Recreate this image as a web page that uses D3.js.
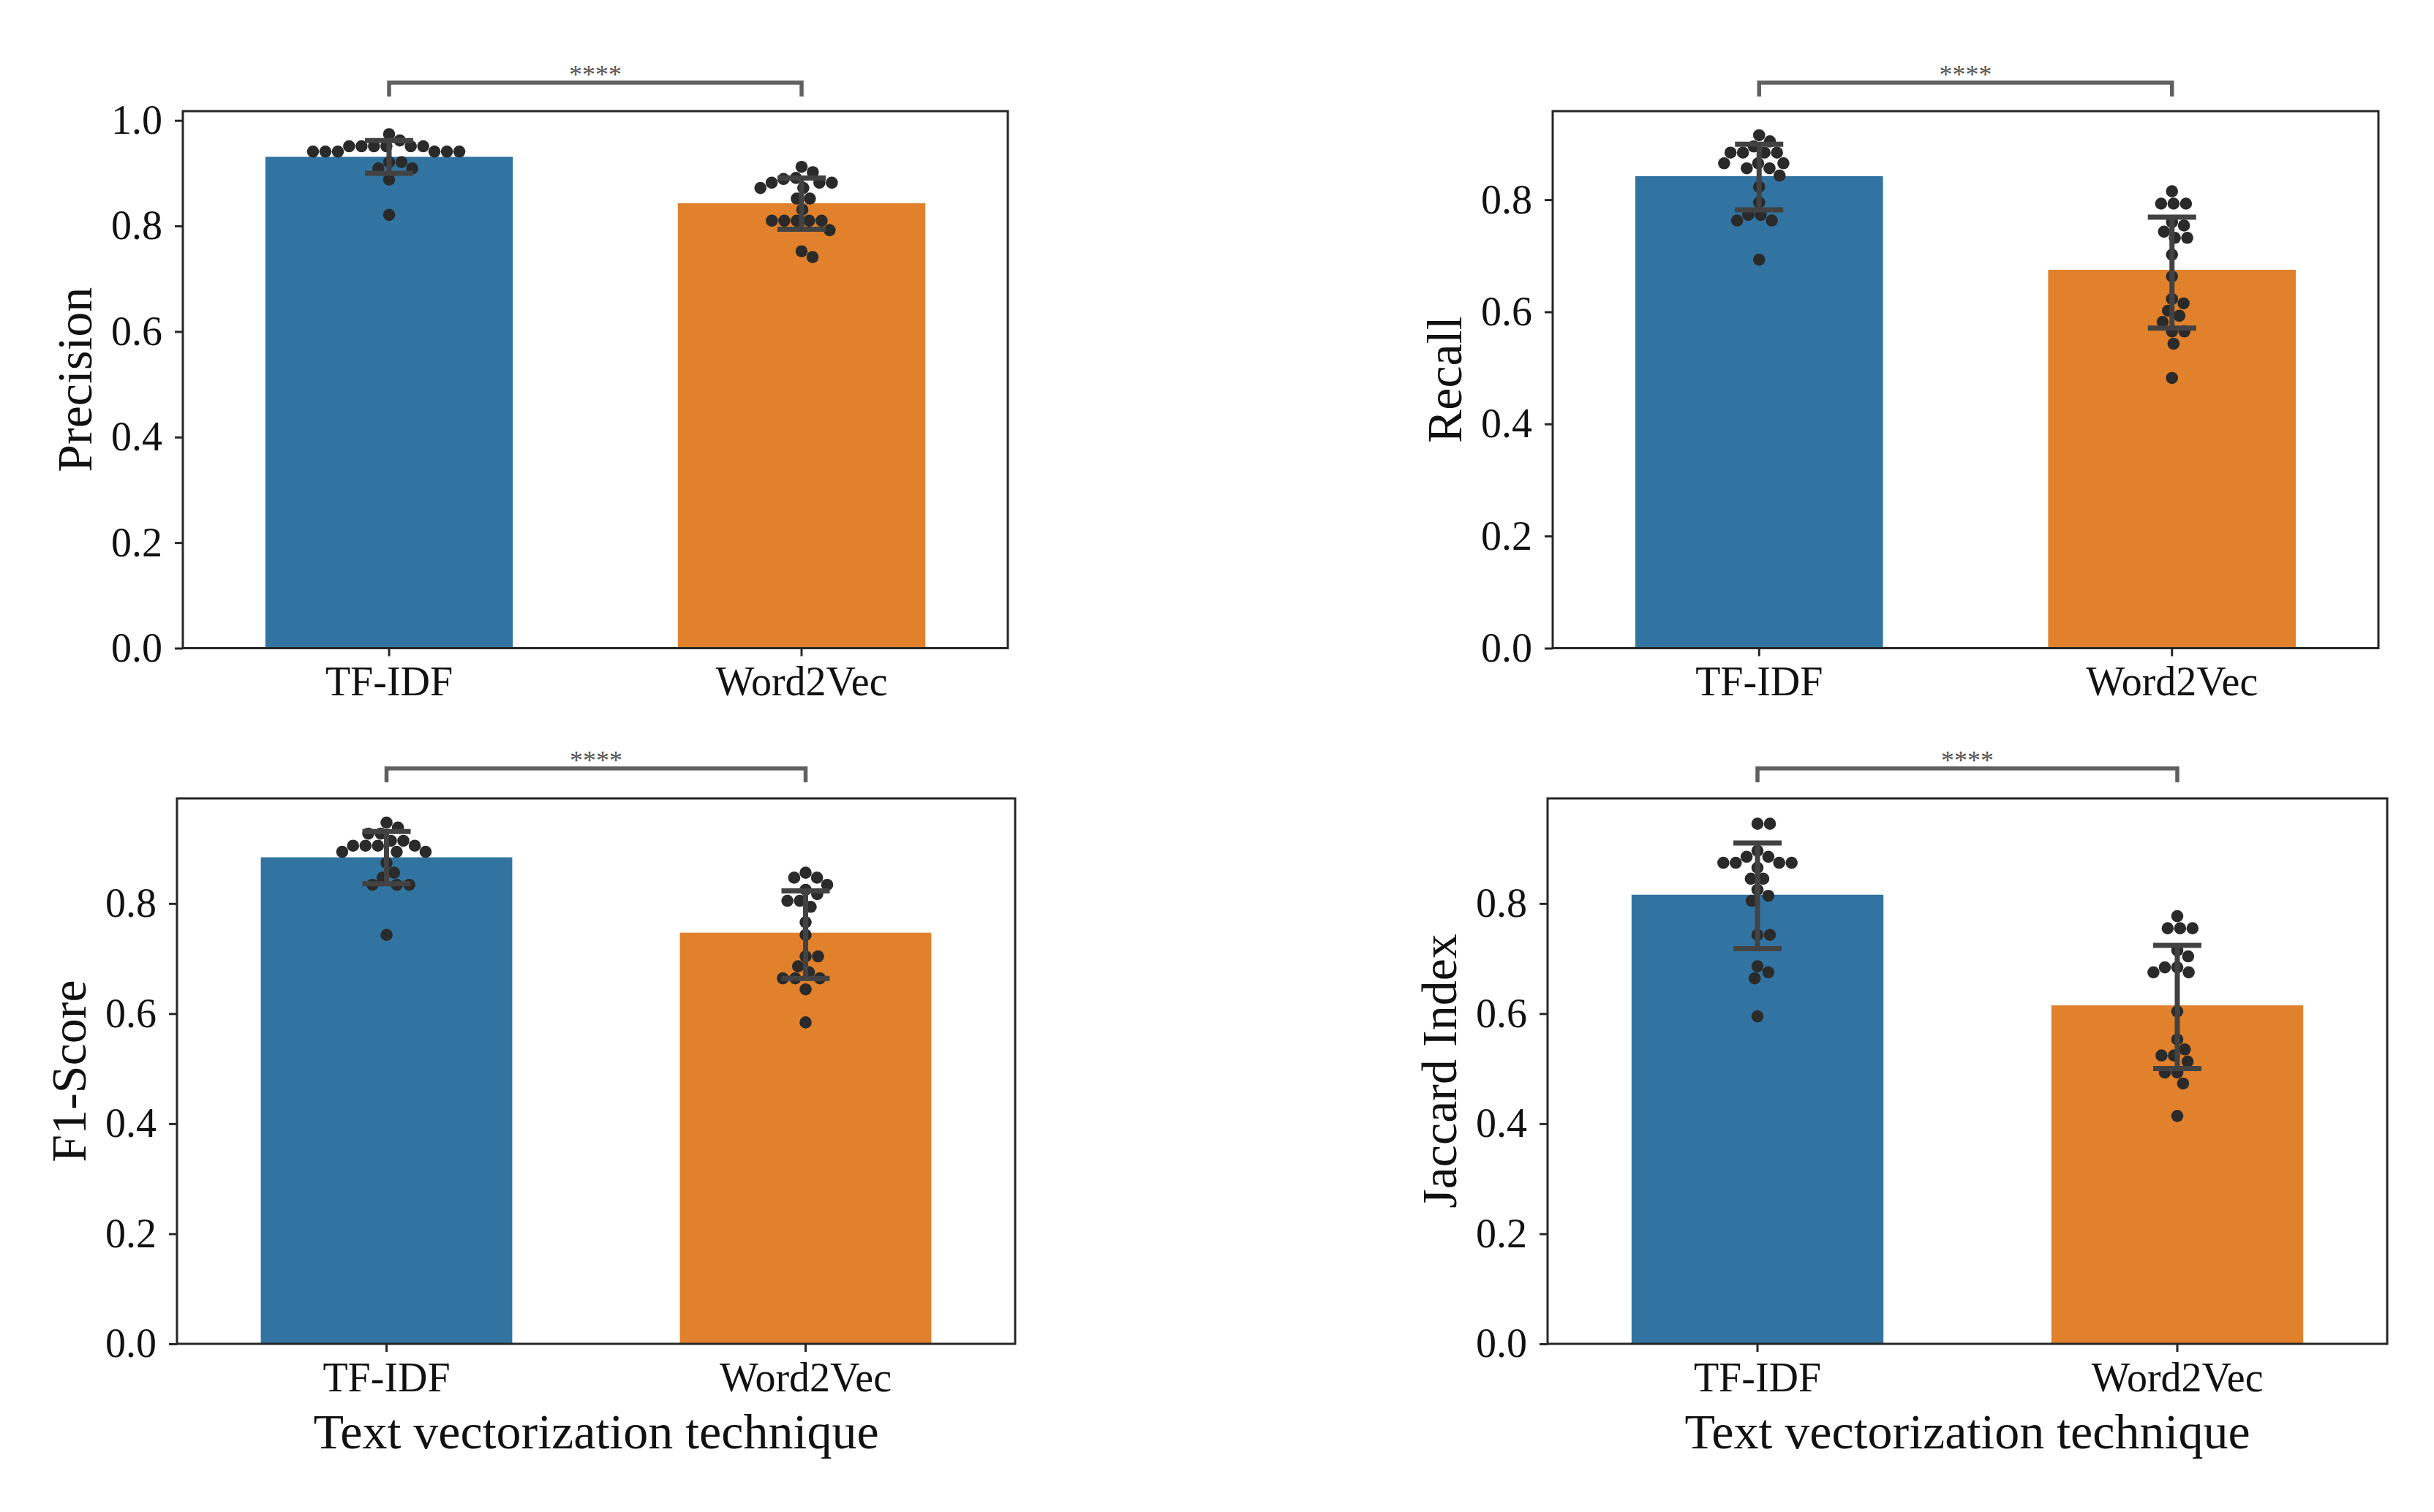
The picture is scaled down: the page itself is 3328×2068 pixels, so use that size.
<!DOCTYPE html>
<html>
<head>
<meta charset="utf-8">
<script src="https://cdn.jsdelivr.net/npm/d3@7"></script>
<style>
  body { margin: 0; background: #fff; }
  text { font-family: "Liberation Serif", "Times New Roman", serif; }
</style>
</head>
<body>
<div id="chart"></div>
<script>
// categories and metrics
var categories = ["TF-IDF", "Word2Vec"];
var metrics = ["Precision", "Recall", "F1-Score", "Jaccard Index"];
var xTitle = "Text vectorization technique";
var sigLabel = "****";

// bar heights (mean)
var precisionMeans = [0.931, 0.843];
var recallMeans = [0.842, 0.675];
var f1Means = [0.884, 0.747];
var jaccardMeans = [0.816, 0.615];

// error bar [low, high] per category
var precisionErr = [[0.900, 0.962], [0.794, 0.891]];
var recallErr = [[0.782, 0.899], [0.571, 0.769]];
var f1Err = [[0.836, 0.931], [0.664, 0.823]];
var jaccardErr = [[0.718, 0.910], [0.500, 0.724]];

// individual runs (swarm points)
var precisionTfidf = [0.974, 0.962, 0.951, 0.951, 0.951, 0.951, 0.951, 0.951, 0.941, 0.941, 0.941, 0.941, 0.941, 0.941, 0.921, 0.921, 0.909, 0.909, 0.888, 0.821];
var precisionW2v = [0.912, 0.902, 0.891, 0.889, 0.882, 0.882, 0.882, 0.872, 0.872, 0.852, 0.852, 0.831, 0.810, 0.810, 0.810, 0.810, 0.810, 0.792, 0.752, 0.741];
var recallTfidf = [0.915, 0.904, 0.895, 0.884, 0.884, 0.884, 0.884, 0.865, 0.865, 0.865, 0.856, 0.856, 0.843, 0.823, 0.795, 0.773, 0.773, 0.763, 0.763, 0.693];
var recallW2v = [0.815, 0.793, 0.793, 0.793, 0.760, 0.754, 0.743, 0.732, 0.732, 0.702, 0.663, 0.623, 0.615, 0.602, 0.593, 0.582, 0.565, 0.565, 0.543, 0.482];
var f1Tfidf = [0.947, 0.938, 0.927, 0.927, 0.914, 0.914, 0.905, 0.905, 0.905, 0.905, 0.894, 0.894, 0.894, 0.874, 0.856, 0.847, 0.834, 0.834, 0.834, 0.743];
var f1W2v = [0.856, 0.847, 0.847, 0.834, 0.825, 0.817, 0.805, 0.805, 0.794, 0.766, 0.743, 0.704, 0.704, 0.686, 0.675, 0.664, 0.664, 0.664, 0.644, 0.584];
var jaccardTfidf = [0.945, 0.945, 0.896, 0.885, 0.885, 0.874, 0.874, 0.874, 0.874, 0.865, 0.845, 0.845, 0.825, 0.814, 0.805, 0.743, 0.743, 0.686, 0.675, 0.664, 0.595];
var jaccardW2v = [0.777, 0.755, 0.755, 0.755, 0.715, 0.704, 0.684, 0.684, 0.675, 0.675, 0.604, 0.553, 0.535, 0.524, 0.524, 0.513, 0.493, 0.493, 0.473, 0.414];

// y ticks and upper limits
var yTicksPrecision = [0.0, 0.2, 0.4, 0.6, 0.8, 1.0];
var yTicksOther = [0.0, 0.2, 0.4, 0.6, 0.8];
var yMax = [1.0176, 0.958, 0.991, 0.991];

var colors = ["#3274a1", "#e1812c"];

var W = 3328, H = 2068;

// panel boxes in pixels: left, right, top, bottom
var panels = [
    { box: [250, 1378, 152, 886.5], means: precisionMeans, err: precisionErr, pts: [precisionTfidf, precisionW2v], ticks: yTicksPrecision, xlab: false },
    { box: [2123, 3252, 152, 886.5], means: recallMeans, err: recallErr, pts: [recallTfidf, recallW2v], ticks: yTicksOther, xlab: false },
    { box: [242, 1388, 1092, 1838], means: f1Means, err: f1Err, pts: [f1Tfidf, f1W2v], ticks: yTicksOther, xlab: true },
    { box: [2116, 3264, 1092, 1838], means: jaccardMeans, err: jaccardErr, pts: [jaccardTfidf, jaccardW2v], ticks: yTicksOther, xlab: true }
];

var svg = d3.select("#chart").append("svg")
    .attr("width", W)
    .attr("height", H);

// beeswarm: place each point at the nearest free horizontal offset
function swarm(values, yScale, r) {
    var d = 2 * r;
    var order = values.map(function (v, i) { return { v: v, y: yScale(v) }; })
        .sort(function (a, b) { return b.v - a.v; });
    var placed = [];
    order.forEach(function (p) {
        var cands = [0];
        placed.forEach(function (q) {
            var dy = Math.abs(q.y - p.y);
            if (dy < d) {
                var dx = Math.sqrt(d * d - dy * dy);
                cands.push(q.x + dx, q.x - dx);
            }
        });
        cands.sort(function (a, b) { return Math.abs(a) - Math.abs(b); });
        for (var i = 0; i < cands.length; i++) {
            var c = cands[i];
            var ok = placed.every(function (q) {
                var dx = q.x - c, dy = q.y - p.y;
                return dx * dx + dy * dy >= d * d - 0.01;
            });
            if (ok) { p.x = c; break; }
        }
        placed.push(p);
    });
    return placed;
}

panels.forEach(function (p, pi) {
    var left = p.box[0], right = p.box[1], top = p.box[2], bottom = p.box[3];
    var width = right - left, height = bottom - top;

    var g = svg.append("g").attr("transform", "translate(" + left + "," + top + ")");

    var xScale = d3.scaleBand().domain(categories).range([0, width]).paddingInner(0.4).paddingOuter(0.2);
    var yScale = d3.scaleLinear().domain([0, yMax[pi]]).range([height, 0]);

    // bars
    g.selectAll("rect.bar").data(categories)
        .enter().append("rect")
        .attr("class", "bar")
        .attr("x", function (c) { return xScale(c); })
        .attr("width", xScale.bandwidth())
        .attr("y", function (c, i) { return yScale(p.means[i]); })
        .attr("height", function (c, i) { return height - yScale(p.means[i]); })
        .attr("fill", function (c, i) { return colors[i]; });

    // swarm points
    categories.forEach(function (c, ci) {
        var cx = xScale(c) + xScale.bandwidth() / 2;
        var pts = swarm(p.pts[ci], yScale, 8.5);
        g.selectAll("circle.c" + ci).data(pts)
            .enter().append("circle")
            .attr("class", "c" + ci)
            .attr("cx", function (d) { return cx + d.x; })
            .attr("cy", function (d) { return d.y; })
            .attr("r", 8.3)
            .attr("fill", "#2a2a2a");
    });

    // error bars
    var capHalf = 33;
    categories.forEach(function (c, ci) {
        var cx = xScale(c) + xScale.bandwidth() / 2;
        var lo = yScale(p.err[ci][0]), hi = yScale(p.err[ci][1]);
        var eg = g.append("g").attr("stroke", "#424242").attr("stroke-width", 7);
        eg.append("line").attr("x1", cx).attr("x2", cx).attr("y1", lo).attr("y2", hi);
        eg.append("line").attr("x1", cx - capHalf).attr("x2", cx + capHalf).attr("y1", lo).attr("y2", lo);
        eg.append("line").attr("x1", cx - capHalf).attr("x2", cx + capHalf).attr("y1", hi).attr("y2", hi);
    });

    // axes
    var yAxis = d3.axisLeft(yScale)
        .tickValues(p.ticks)
        .tickFormat(d3.format(".1f"))
        .tickSize(11)
        .tickPadding(17);
    var xAxis = d3.axisBottom(xScale)
        .tickSize(11)
        .tickPadding(14);

    var yAxisG = g.append("g").call(yAxis);
    var xAxisG = g.append("g").attr("transform", "translate(0," + height + ")").call(xAxis);

    [yAxisG, xAxisG].forEach(function (a) {
        a.attr("font-family", null);
        a.select(".domain").remove();
        a.selectAll(".tick line").attr("stroke", "#262626").attr("stroke-width", 3);
        a.selectAll(".tick text")
            .attr("fill", "#111")
            .style("font-size", "56px")
            .style("font-family", "'Liberation Serif', 'Times New Roman', serif");
    });

    // frame
    g.append("rect")
        .attr("x", 0).attr("y", 0)
        .attr("width", width).attr("height", height)
        .attr("fill", "none")
        .attr("stroke", "#262626")
        .attr("stroke-width", 3);

    // y label
    g.append("text")
        .attr("transform", "translate(" + (-125) + "," + (height / 2) + ") rotate(-90)")
        .attr("text-anchor", "middle")
        .attr("fill", "#111")
        .style("font-size", "68px")
        .text(metrics[pi]);

    // x label
    if (p.xlab) {
        g.append("text")
            .attr("x", width / 2)
            .attr("y", height + 143)
            .attr("text-anchor", "middle")
            .attr("fill", "#111")
            .style("font-size", "68px")
            .text(xTitle);
    }

    // significance bracket
    var x1 = xScale(categories[0]) + xScale.bandwidth() / 2;
    var x2 = xScale(categories[1]) + xScale.bandwidth() / 2;
    var by = pi < 2 ? -39 : -41;
    g.append("path")
        .attr("d", "M" + x1 + "," + (by + 19) + "V" + by + "H" + x2 + "V" + (by + 19))
        .attr("fill", "none")
        .attr("stroke", "#606060")
        .attr("stroke-width", 5.5);
    g.append("text")
        .attr("x", (x1 + x2) / 2)
        .attr("y", by + 1)
        .attr("text-anchor", "middle")
        .attr("fill", "#555")
        .style("font-size", "36px")
        .text(sigLabel);
});
</script>
</body>
</html>
